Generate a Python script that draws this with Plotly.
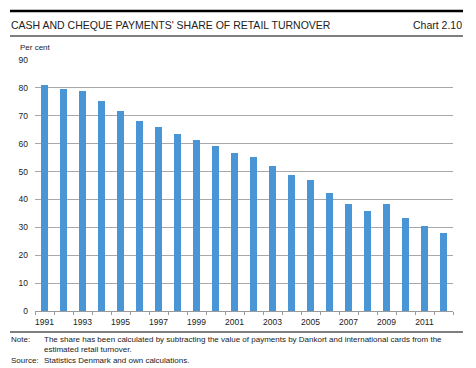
import plotly.graph_objects as go

years = list(range(1991, 2013))
share = [81.0, 79.7, 79.0, 75.4, 71.7, 68.1, 66.0, 63.3, 61.2, 59.2, 56.8,
         55.1, 52.1, 48.8, 46.8, 42.2, 38.4, 35.9, 38.4, 33.3, 30.5, 28.0]
y_ticks = list(range(0, 100, 10))
x_ticks = list(range(1991, 2012, 2))

title = "CASH AND CHEQUE PAYMENTS' SHARE OF RETAIL TURNOVER"
chart_no = "Chart 2.10"
unit = "Per cent"
note = ("The share has been calculated by subtracting the value of payments by Dankort and international cards from the",
        "estimated retail turnover.")
source = "Statistics Denmark and own calculations."

W, H = 476, 368
L, R, T, B = 35, 453, 60, 311
FONT = "Liberation Sans, Arial, Helvetica, sans-serif"
TXT = "#222222"


def px(x):
    return (x - L) / (R - L)


def py(y):
    return (B - y) / (B - T)


fig = go.Figure(go.Bar(x=years, y=share, width=0.4, marker=dict(color="#4a95d6", line=dict(width=0))))

fig.update_layout(
    width=W, height=H,
    margin=dict(l=L, r=W - R, t=T, b=H - B),
    paper_bgcolor="white", plot_bgcolor="white",
    showlegend=False,
    font=dict(family=FONT, size=8, color=TXT),
    bargap=0,
)
fig.update_xaxes(
    range=[1990.5, 2012.5], tickvals=x_ticks, ticks="", showgrid=False,
    showline=True, linecolor="#9a9a9a", linewidth=1,
    tickfont=dict(size=8.5, color=TXT), ticklabelstandoff=3,
    minor=dict(tick0=1990.5, dtick=1, ticks="outside", ticklen=3, tickcolor="#9a9a9a", tickwidth=1, showgrid=False),
)
fig.update_yaxes(
    range=[0, 90], tickvals=y_ticks, showgrid=True, gridcolor="#a8a8a8", gridwidth=1,
    zeroline=False, showline=False, ticks="", tickfont=dict(size=8.5, color=TXT), ticklabelstandoff=6,
)

shapes = [
    dict(type="line", xref="paper", yref="paper", x0=px(10), x1=px(463), y0=py(11), y1=py(11),
         line=dict(color="black", width=2.5)),
    dict(type="line", xref="paper", yref="paper", x0=px(10), x1=px(463), y0=py(36), y1=py(36),
         line=dict(color="black", width=1)),
    dict(type="line", xref="paper", yref="paper", x0=px(10), x1=px(463), y0=py(332), y1=py(332),
         line=dict(color="black", width=1.2)),
]
fig.update_layout(shapes=shapes)


def ann(text, x, y, size, xanchor="left"):
    return dict(text=text, x=px(x), y=py(y), xref="paper", yref="paper", showarrow=False,
                xanchor=xanchor, yanchor="middle", font=dict(size=size, color=TXT, family=FONT))


anns = [
    ann(title, 9, 25, 10.5),
    ann(chart_no, 464, 25, 10.5, "right"),
    ann(unit, 18, 47, 8),
    ann("Note:", 9, 339, 8),
    ann(note[0], 42, 339, 8),
    ann(note[1], 42, 349, 8),
    ann("Source:", 9, 360, 8),
    ann(source, 42, 360, 8),
]
fig.update_layout(annotations=anns)

fig.write_html("out.html", config={"displayModeBar": False},
               post_script="document.body.style.margin='0';document.body.style.overflow='hidden';")
